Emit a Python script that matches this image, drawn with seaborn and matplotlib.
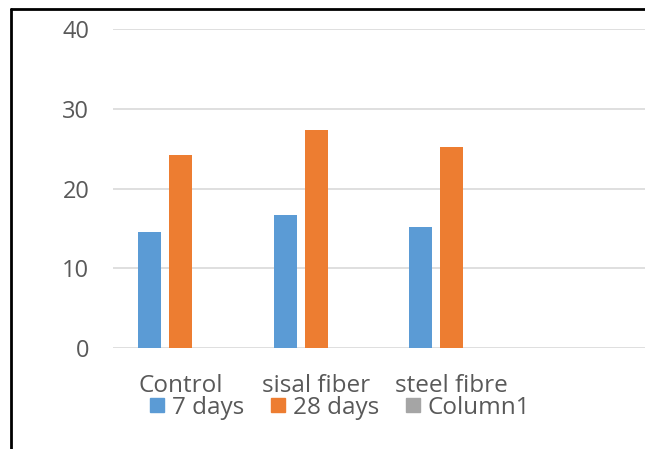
import matplotlib
matplotlib.use("Agg")
import matplotlib.pyplot as plt
from matplotlib.lines import Line2D
import numpy as np
import pandas as pd
import seaborn as sns

# Compressive strength by mix, two curing ages (Column1 left empty)
categories = ["Control", "sisal fiber", "steel fibre", ""]
series = ["7 days", "28 days", "Column1"]
days7 = [14.55, 16.7, 15.15, np.nan]
days28 = [24.25, 27.3, 25.15, np.nan]
column1 = [np.nan, np.nan, np.nan, np.nan]
yticks = [0, 10, 20, 30, 40]

colors = {"7 days": "#5B9BD5", "28 days": "#ED7D31", "Column1": "#A5A5A5"}
text_grey = "#595959"

df = pd.DataFrame({
    "mix": categories * 3,
    "series": [s for s in series for _ in categories],
    "value": days7 + days28 + column1,
})

sns.set_theme(style="white")
plt.rcParams["font.family"] = ["Open Sans", "DejaVu Sans"]

fig = plt.figure(figsize=(6.45, 4.49), dpi=100)
fig.patch.set_facecolor("white")
ax = fig.add_axes([113 / 645, (449 - 348) / 449, (655 - 113) / 645, (348 - 29) / 449])

sns.barplot(
    data=df.dropna(), x="mix", y="value", hue="series",
    order=categories, hue_order=series, palette=colors,
    width=0.686, gap=0.26, dodge=True, legend=False, ax=ax,
    saturation=1, edgecolor="none", linewidth=0, zorder=3,
)

ax.set_xlim(-0.5, 3.5)
ax.set_ylim(0, 40)
ax.set_yticks(yticks)
ax.set_yticklabels([str(v) for v in yticks])
ax.yaxis.grid(True, color="#D9D9D9", linewidth=1.2, zorder=0)
ax.xaxis.grid(False)
ax.set_axisbelow(True)
for side in ["top", "right", "left", "bottom"]:
    ax.spines[side].set_visible(False)
ax.set_xlabel("")
ax.set_ylabel("")
ax.tick_params(axis="y", length=0, pad=17, labelsize=17, labelcolor=text_grey)
ax.tick_params(axis="x", length=0, pad=19, labelsize=17.5, labelcolor=text_grey)

handles = [
    Line2D([], [], marker="s", linestyle="none", markersize=10,
           markerfacecolor=colors[s], markeredgecolor=colors[s], label=s)
    for s in series
]
fig.legend(
    handles=handles, loc="center", bbox_to_anchor=(340 / 645, (449 - 408) / 449),
    ncol=3, frameon=False, fontsize=17.5, labelcolor=text_grey,
    handlelength=0.6, handletextpad=0.3, columnspacing=1.1, borderaxespad=0,
)

# Chart frame edges (top and left)
fig.add_artist(Line2D([10.5 / 645, 1.0], [1 - 8.5 / 449, 1 - 8.5 / 449],
                      transform=fig.transFigure, color="black", linewidth=2))
fig.add_artist(Line2D([10.5 / 645, 10.5 / 645], [0, 1 - 8.5 / 449],
                      transform=fig.transFigure, color="black", linewidth=2))

fig.savefig("out.png", dpi=100)
